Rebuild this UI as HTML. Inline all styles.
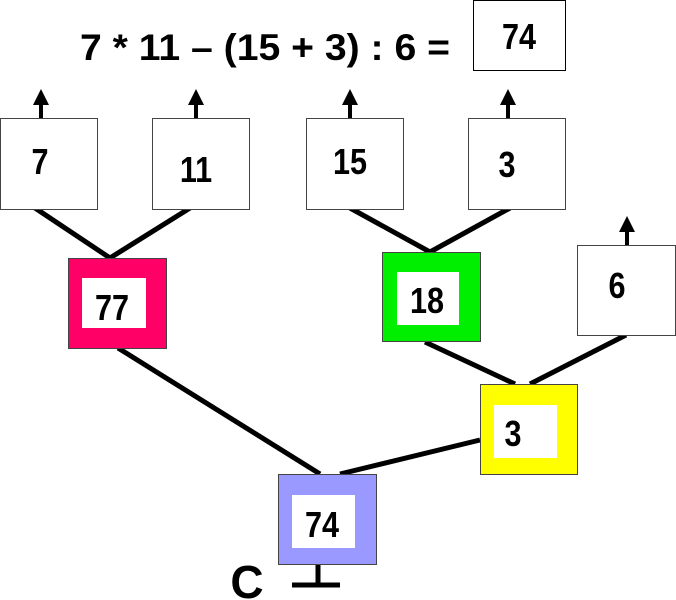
<!DOCTYPE html>
<html><head><style>
body{margin:0;width:676px;height:600px;background:#fff;overflow:hidden;position:relative;font-family:"Liberation Sans",sans-serif;font-weight:bold}
</style></head><body>
<svg width="676" height="600" style="position:absolute;left:0;top:0" font-family="Liberation Sans, sans-serif" font-weight="bold">
<defs><marker id="a" markerWidth="4" markerHeight="4" refX="2" refY="2" orient="auto" markerUnits="strokeWidth"><path d="M0,0 L4,2 L0,4 z" fill="#000"/></marker></defs>
<text x="80" y="60" font-size="37" textLength="370" lengthAdjust="spacingAndGlyphs">7 * 11 – (15 + 3) : 6 =</text>
<rect x="473.5" y="0.5" width="92" height="70" fill="#fff" stroke="#000"/>
<g font-size="36" text-anchor="middle" fill="#000">
<text transform="translate(519,49) scale(0.85,1)">74</text>
</g>
<g stroke="#000" stroke-width="5">
<line x1="41" y1="118" x2="41" y2="97" marker-end="url(#a)" stroke-width="4"/>
<line x1="196" y1="118" x2="196" y2="97" marker-end="url(#a)" stroke-width="4"/>
<line x1="350" y1="118" x2="350" y2="97" marker-end="url(#a)" stroke-width="4"/>
<line x1="508" y1="118" x2="508" y2="97" marker-end="url(#a)" stroke-width="4"/>
<line x1="627" y1="245" x2="627" y2="224" marker-end="url(#a)" stroke-width="4"/>
<line x1="35" y1="208" x2="110" y2="258"/>
<line x1="190" y1="208" x2="110" y2="258"/>
<line x1="350" y1="208" x2="430" y2="252"/>
<line x1="510" y1="208" x2="430" y2="252"/>
<line x1="425" y1="342" x2="515" y2="384"/>
<line x1="626" y1="335" x2="530" y2="384"/>
<line x1="118" y1="348" x2="320" y2="474"/>
<line x1="480" y1="440" x2="340" y2="474"/>
<line x1="318" y1="564" x2="318" y2="585"/>
<line x1="292" y1="585" x2="340" y2="585"/>
</g>
<g fill="#fff" stroke="#444" stroke-width="1">
<rect x="0.5" y="118.5" width="97" height="91"/>
<rect x="152.5" y="118.5" width="97" height="91"/>
<rect x="306.5" y="118.5" width="97" height="91"/>
<rect x="468.5" y="118.5" width="97" height="91"/>
<rect x="577.5" y="245.5" width="98" height="90"/>
<rect x="68.5" y="258.5" width="98" height="90" fill="#ff0066"/>
<rect x="382.5" y="252.5" width="98" height="89" fill="#00ee00"/>
<rect x="480.5" y="384.5" width="97" height="90" fill="#ffff00"/>
<rect x="278.5" y="474.5" width="98" height="90" fill="#9999ff"/>
</g>
<g fill="#fff">
<rect x="82" y="278" width="64" height="50"/>
<rect x="397" y="272" width="62" height="53"/>
<rect x="494" y="405" width="63" height="53"/>
<rect x="292" y="495" width="63" height="53"/>
</g>
<g font-size="36" text-anchor="middle" fill="#000">
<text transform="translate(40,174) scale(0.85,1)">7</text>
<text transform="translate(196,182) scale(0.85,1)">11</text>
<text transform="translate(350,174) scale(0.85,1)">15</text>
<text transform="translate(507,177) scale(0.85,1)">3</text>
<text transform="translate(617,298) scale(0.85,1)">6</text>
<text transform="translate(112,320) scale(0.85,1)">77</text>
<text transform="translate(427,313) scale(0.85,1)">18</text>
<text transform="translate(513,446) scale(0.85,1)">3</text>
<text transform="translate(322,537) scale(0.85,1)">74</text>
<text x="247" y="598" font-size="46">C</text>
</g>
</svg>
</body></html>
